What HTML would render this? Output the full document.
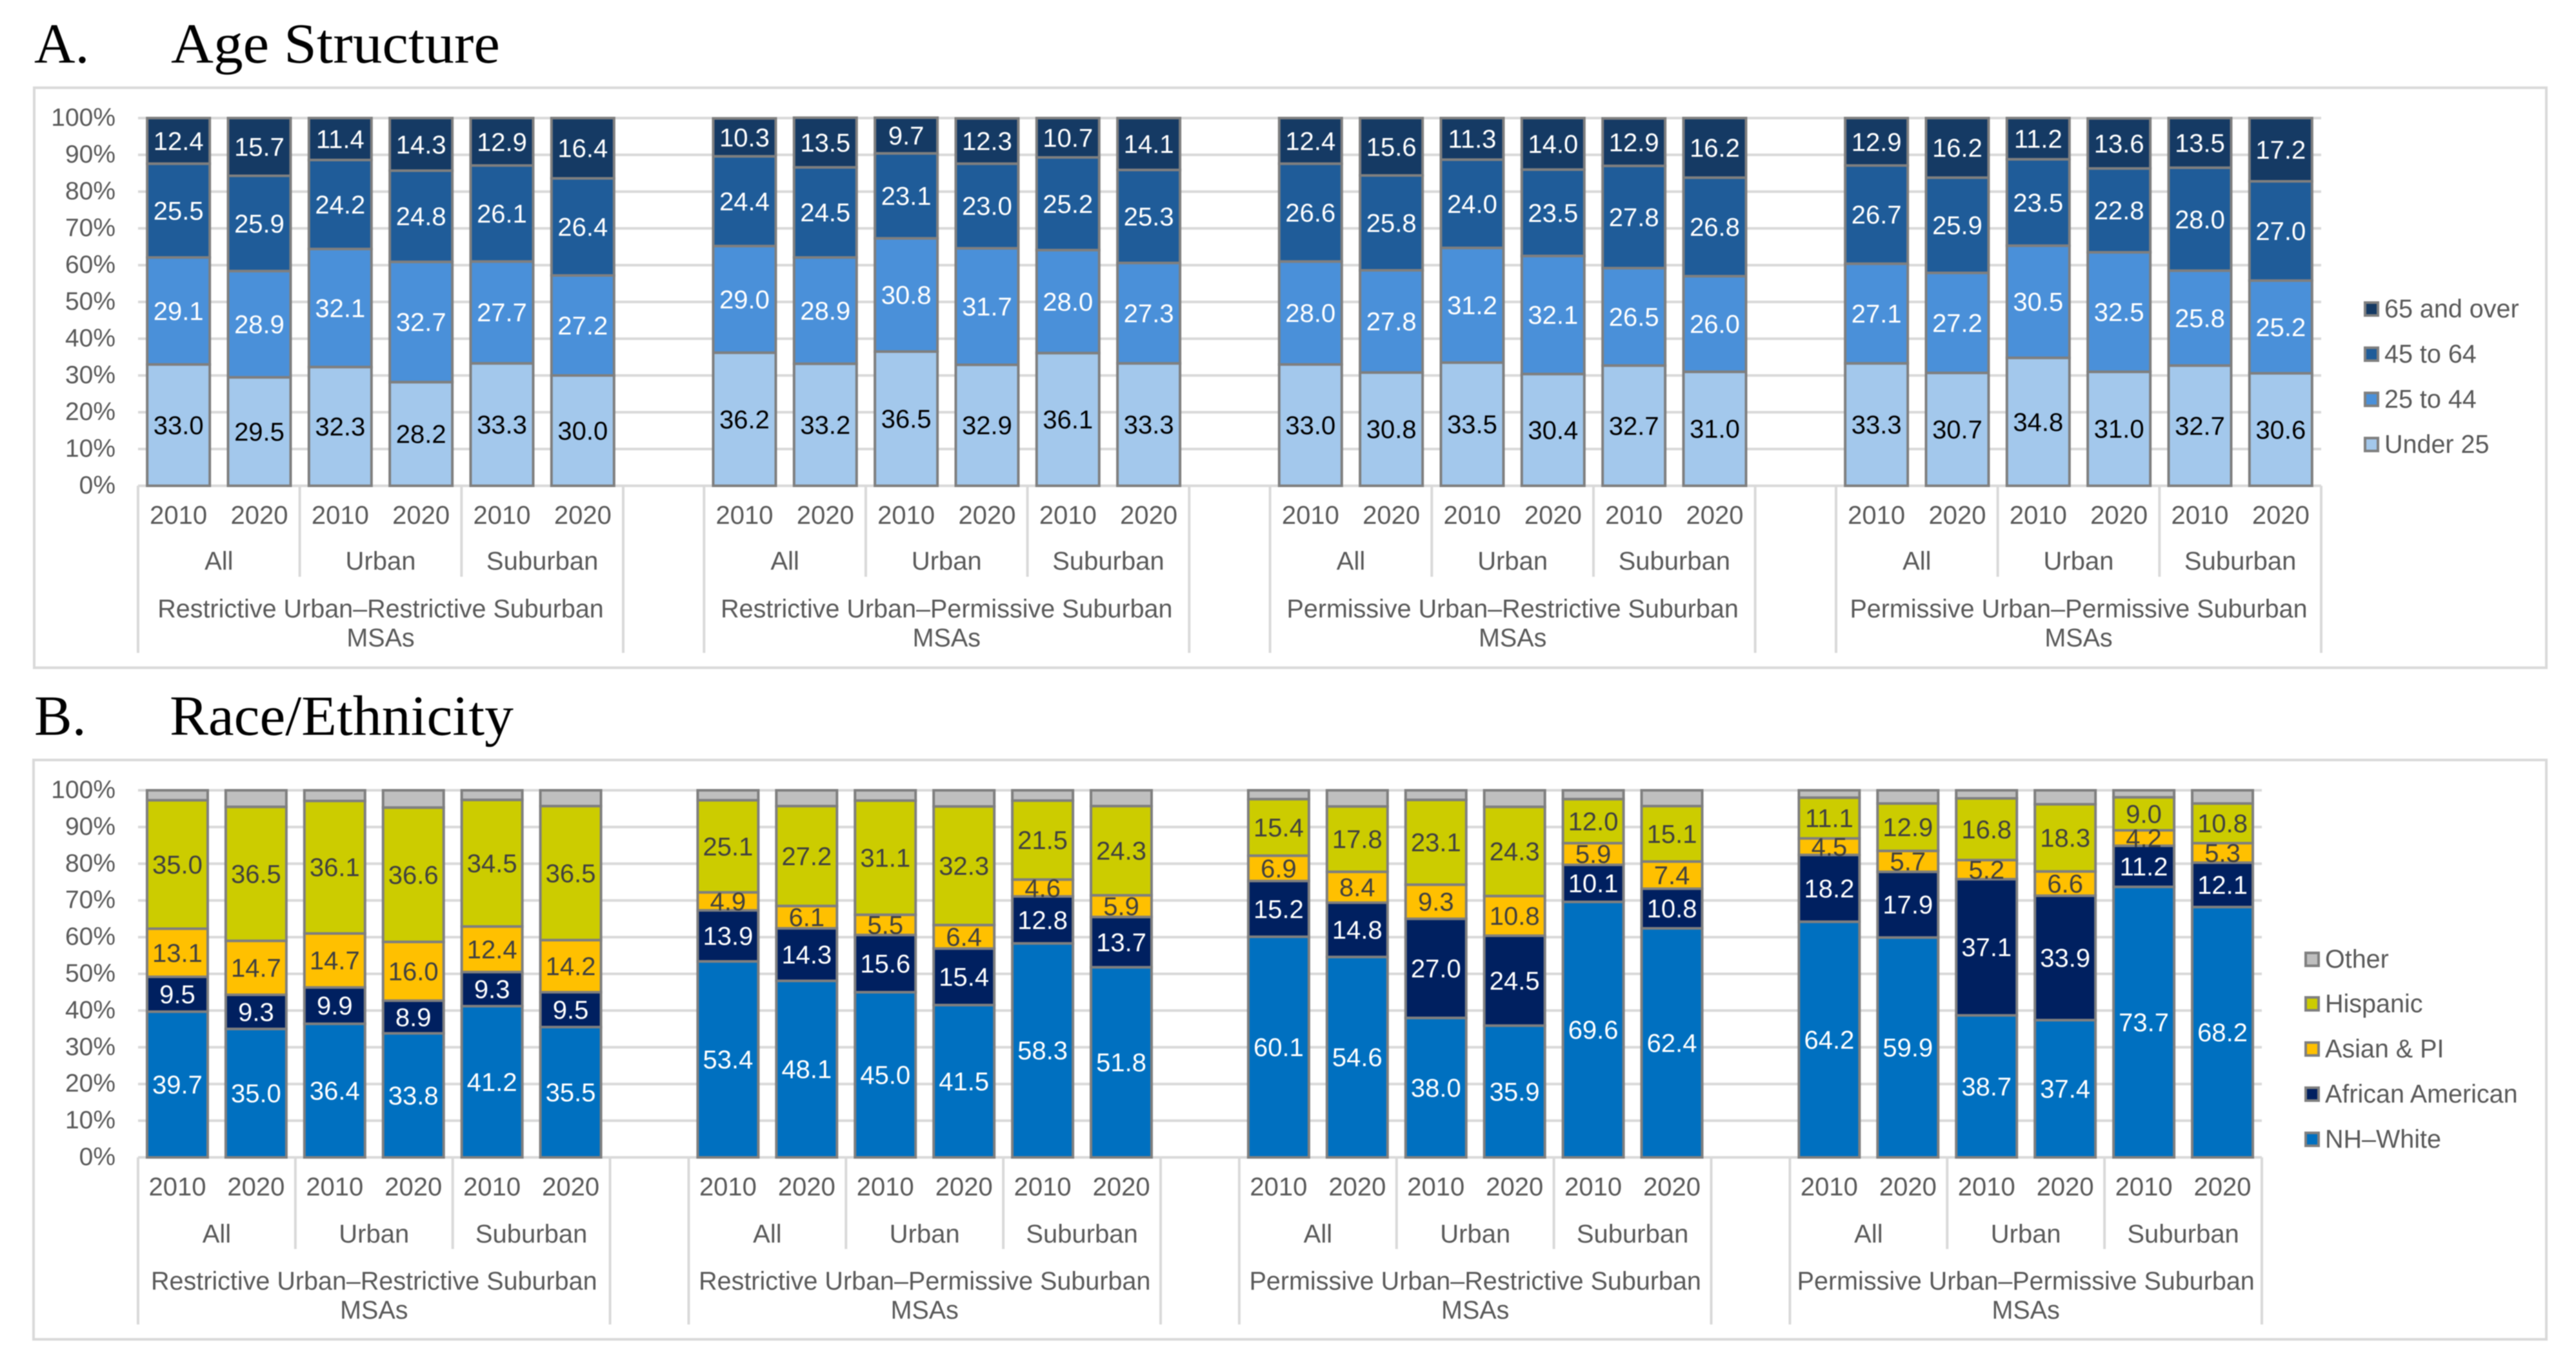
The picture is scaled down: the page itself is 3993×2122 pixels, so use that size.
<!DOCTYPE html>
<html lang="en">
<head>
<meta charset="utf-8">
<title>Age Structure and Race/Ethnicity by MSA type</title>
<style>
html,body{margin:0;padding:0;background:#fff;width:3993px;height:2122px;overflow:hidden}
svg{position:absolute;left:0;top:0;filter:blur(0.7px)}
text{font-family:"Liberation Sans",Arial,sans-serif}
.title{font-family:"Liberation Serif",serif;font-size:88px;fill:#000}
</style>
</head>
<body>
<svg id="figure" xmlns="http://www.w3.org/2000/svg" width="3993" height="2122" viewBox="0 0 3993 2122">
  <text class="title" x="53" y="97">A.</text>
  <text class="title" x="265" y="97" textLength="510" lengthAdjust="spacingAndGlyphs">Age Structure</text>
  <text class="title" x="53" y="1139">B.</text>
  <text class="title" x="263" y="1139" textLength="533" lengthAdjust="spacingAndGlyphs">Race/Ethnicity</text>
  <g id="panelA"></g>
  <g id="panelB"></g>
</svg>
<script>
// ---- shared categories and tick labels ----
const yTickLabels = ["0%","10%","20%","30%","40%","50%","60%","70%","80%","90%","100%"];
const yTickValues = [0,10,20,30,40,50,60,70,80,90,100];
const yearLabels = ["2010","2020"];
const placeLabels = ["All","Urban","Suburban"];
const msaLabels = ["Restrictive Urban–Restrictive Suburban","Restrictive Urban–Permissive Suburban","Permissive Urban–Restrictive Suburban","Permissive Urban–Permissive Suburban"];

// ---- Panel A: age structure (24 bars, left to right) ----
const ageUnder25 = [33.0,29.5,32.3,28.2,33.3,30.0, 36.2,33.2,36.5,32.9,36.1,33.3, 33.0,30.8,33.5,30.4,32.7,31.0, 33.3,30.7,34.8,31.0,32.7,30.6];
const age25to44  = [29.1,28.9,32.1,32.7,27.7,27.2, 29.0,28.9,30.8,31.7,28.0,27.3, 28.0,27.8,31.2,32.1,26.5,26.0, 27.1,27.2,30.5,32.5,25.8,25.2];
const age45to64  = [25.5,25.9,24.2,24.8,26.1,26.4, 24.4,24.5,23.1,23.0,25.2,25.3, 26.6,25.8,24.0,23.5,27.8,26.8, 26.7,25.9,23.5,22.8,28.0,27.0];
const age65Over  = [12.4,15.7,11.4,14.3,12.9,16.4, 10.3,13.5,9.7,12.3,10.7,14.1, 12.4,15.6,11.3,14.0,12.9,16.2, 12.9,16.2,11.2,13.6,13.5,17.2];

// ---- Panel B: race / ethnicity (24 bars, left to right) ----
const raceWhite    = [39.7,35.0,36.4,33.8,41.2,35.5, 53.4,48.1,45.0,41.5,58.3,51.8, 60.1,54.6,38.0,35.9,69.6,62.4, 64.2,59.9,38.7,37.4,73.7,68.2];
const raceBlack    = [9.5,9.3,9.9,8.9,9.3,9.5, 13.9,14.3,15.6,15.4,12.8,13.7, 15.2,14.8,27.0,24.5,10.1,10.8, 18.2,17.9,37.1,33.9,11.2,12.1];
const raceAsian    = [13.1,14.7,14.7,16.0,12.4,14.2, 4.9,6.1,5.5,6.4,4.6,5.9, 6.9,8.4,9.3,10.8,5.9,7.4, 4.5,5.7,5.2,6.6,4.2,5.3];
const raceHispanic = [35.0,36.5,36.1,36.6,34.5,36.5, 25.1,27.2,31.1,32.3,21.5,24.3, 15.4,17.8,23.1,24.3,12.0,15.1, 11.1,12.9,16.8,18.3,9.0,10.8];
const raceOther    = [2.7,4.5,2.9,4.7,2.6,4.3, 2.7,4.3,2.8,4.4,2.8,4.3, 2.4,4.4,2.6,4.5,2.4,4.3, 2.0,3.6,2.2,3.8,1.9,3.6];

const SVG_NS = "http://www.w3.org/2000/svg";
const GRID = "#D9D9D9", TEXT = "#595959", EDGE = "#7F7F7F";

function make(parent, tag, attrs, content) {
  const el = document.createElementNS(SVG_NS, tag);
  for (const k in attrs) el.setAttribute(k, attrs[k]);
  if (content !== undefined) el.textContent = content;
  parent.appendChild(el);
  return el;
}

function drawChart(root, cfg) {
  const yScale = v => cfg.y0 + (cfg.y100 - cfg.y0) * v / 100;
  const catW = (cfg.x1 - cfg.x0) / 27;
  const slotOf = i => Math.floor(i / 6) * 7 + (i % 6);
  const xScale = i => cfg.x0 + (slotOf(i) + 0.5) * catW;

  // frame
  const frame = make(root, "rect", {x: cfg.fx, y: cfg.fy, width: cfg.fw, height: cfg.fh, fill: "#fff", stroke: GRID, "stroke-width": 4});
  
  

  // gridlines and y ticks
  yTickValues.forEach((v, k) => {
    const line = make(root, "line", {x1: cfg.x0, x2: cfg.x1, y1: yScale(v), y2: yScale(v), stroke: GRID, "stroke-width": 4});
    
    
    const tick = make(root, "text", {x: 179, y: yScale(v) + 12, "text-anchor": "end", "font-size": 39, fill: TEXT}, yTickLabels[k]);
    
    
  });

  // stacked bars
  const n = cfg.series[0].values.length;
  for (let i = 0; i < n; i++) {
    const cx = xScale(i);
    let cum = 0;
    cfg.series.forEach(s => {
      const v = s.values[i];
      const top = yScale(cum + v), bot = yScale(cum);
      const seg = make(root, "rect", {x: cx - cfg.barW / 2, y: top, width: cfg.barW, height: bot - top, fill: s.color, stroke: EDGE, "stroke-width": 4});
      
      
      cum += v;
    });
    cum = 0;
    cfg.series.forEach(s => {
      const v = s.values[i];
      if (s.labelColor) {
        const mid = yScale(cum + v / 2);
        const lab = make(root, "text", {x: cx, y: mid + 14, "text-anchor": "middle", "font-size": 40, fill: s.labelColor}, v.toFixed(1));
        
        
      }
      cum += v;
    });
  }

  // hierarchical category axis
  const addSep = (x, y2) => {
    const sep = make(root, "line", {x1: x, x2: x, y1: cfg.y0, y2: y2, stroke: GRID, "stroke-width": 4});
    
    
  };
  for (let g = 0; g < msaLabels.length; g++) {
    const gx = cfg.x0 + g * 7 * catW;
    addSep(gx, cfg.sepOuter);
    addSep(gx + 6 * catW, cfg.sepOuter);
    for (let p = 0; p < placeLabels.length; p++) {
      if (p > 0) addSep(gx + p * 2 * catW, cfg.sepInner);
      const pl = make(root, "text", {x: gx + (p * 2 + 1) * catW, y: cfg.placeY, "text-anchor": "middle", "font-size": 40, fill: TEXT}, placeLabels[p]);
      
      
      yearLabels.forEach((yr, q) => {
        const t = make(root, "text", {x: gx + (p * 2 + q + 0.5) * catW, y: cfg.yearY, "text-anchor": "middle", "font-size": 40, fill: TEXT}, yr);
        
        
      });
    }
    const m1 = make(root, "text", {x: gx + 3 * catW, y: cfg.msaY, "text-anchor": "middle", "font-size": 39.5, fill: TEXT}, msaLabels[g]);
    
    
    const m2 = make(root, "text", {x: gx + 3 * catW, y: cfg.msaY + 45, "text-anchor": "middle", "font-size": 39.5, fill: TEXT}, "MSAs");
    
    
  }

  // legend
  cfg.legend.forEach(e => {
    const sw = make(root, "rect", {x: cfg.legendX, y: e.y - 10, width: 20, height: 20, fill: e.color, stroke: EDGE, "stroke-width": 4});
    
    
    const tx = make(root, "text", {x: cfg.legendX + 30, y: e.y + 13, "font-size": 39.5, fill: TEXT}, e.label);
    
    
  });
}

drawChart(document.getElementById("panelA"), {
  fx: 53, fy: 136, fw: 3894, fh: 899,
  x0: 214, x1: 3598, y0: 753, y100: 183, barW: 97,
  yearY: 812, placeY: 883, msaY: 957, sepInner: 894, sepOuter: 1012, legendX: 3666,
  series: [
    {key: "under-25", values: ageUnder25, color: "#A3C8EC", labelColor: "#000"},
    {key: "25-to-44", values: age25to44, color: "#4A90D9", labelColor: "#fff"},
    {key: "45-to-64", values: age45to64, color: "#1F5C99", labelColor: "#fff"},
    {key: "65-and-over", values: age65Over, color: "#153A64", labelColor: "#fff"}
  ],
  legend: [
    {label: "65 and over", color: "#153A64", y: 479},
    {label: "45 to 64", color: "#1F5C99", y: 549},
    {label: "25 to 44", color: "#4A90D9", y: 619},
    {label: "Under 25", color: "#A3C8EC", y: 689}
  ]
});

drawChart(document.getElementById("panelB"), {
  fx: 52, fy: 1178, fw: 3895, fh: 898,
  x0: 214, x1: 3506, y0: 1794, y100: 1225, barW: 94,
  yearY: 1853, placeY: 1926, msaY: 1999, sepInner: 1936, sepOuter: 2053, legendX: 3574,
  series: [
    {key: "nh-white", values: raceWhite, color: "#0070C0", labelColor: "#fff"},
    {key: "african-american", values: raceBlack, color: "#002060", labelColor: "#fff"},
    {key: "asian-pi", values: raceAsian, color: "#FFC000", labelColor: "#404040"},
    {key: "hispanic", values: raceHispanic, color: "#CCCC00", labelColor: "#404040"},
    {key: "other", values: raceOther, color: "#BFBFBF", labelColor: null}
  ],
  legend: [
    {label: "Other", color: "#BFBFBF", y: 1487},
    {label: "Hispanic", color: "#CCCC00", y: 1556},
    {label: "Asian & PI", color: "#FFC000", y: 1626},
    {label: "African American", color: "#002060", y: 1696},
    {label: "NH–White", color: "#0070C0", y: 1766}
  ]
});
</script>
</body>
</html>
